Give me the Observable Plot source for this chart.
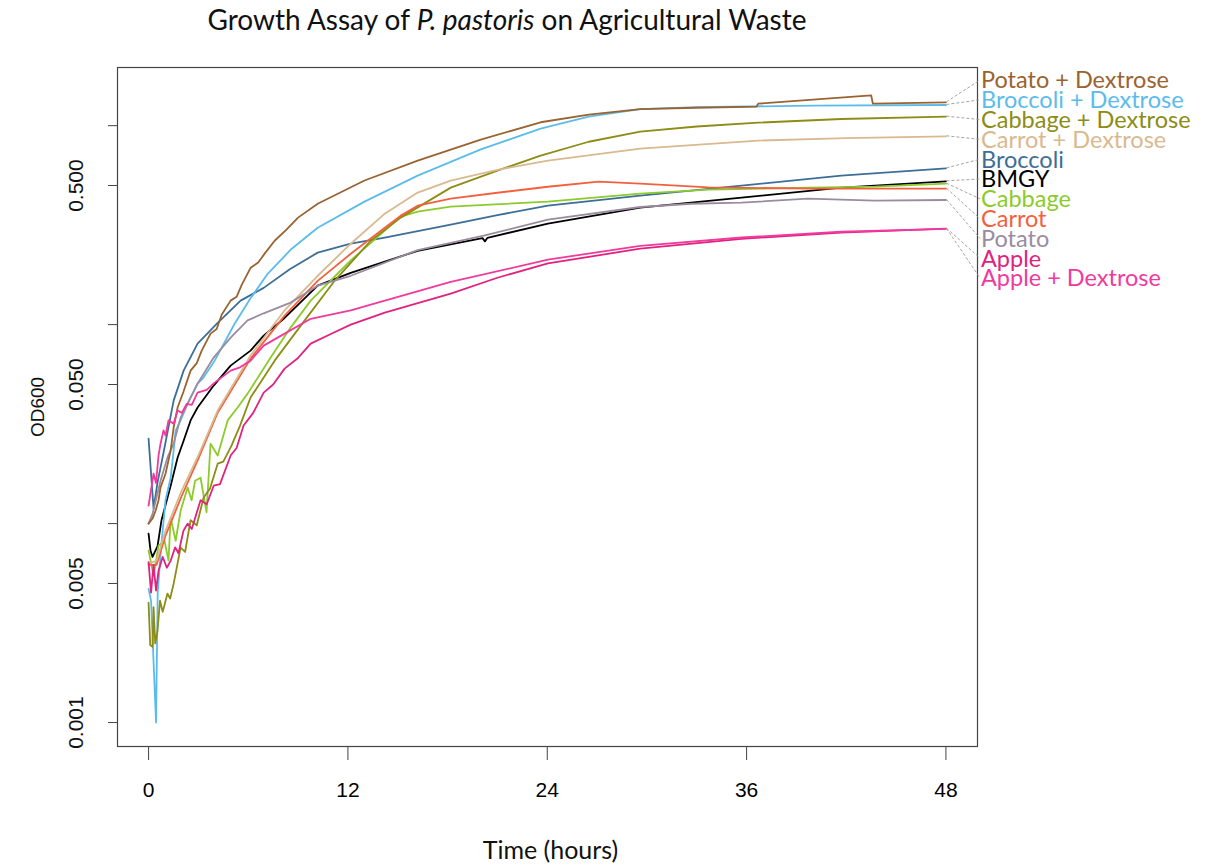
<!DOCTYPE html>
<html><head><meta charset="utf-8">
<script src="https://cdn.jsdelivr.net/npm/d3@7"></script>
<script src="https://cdn.jsdelivr.net/npm/@observablehq/plot@0.6"></script>
<style>
body{margin:0;background:#fff;}
#title{position:absolute;left:0;top:2px;width:1014px;text-align:center;font-family:Lato,"Open Sans",sans-serif;font-size:28px;color:#111;}
#chart{position:absolute;left:0;top:45px;}
</style></head><body>
<div id="title">Growth Assay of <i>P. pastoris</i> on Agricultural Waste</div>
<div id="chart"></div>
<script>
// Series names (legend order) and colours
const seriesNames = ["Potato + Dextrose","Broccoli + Dextrose","Cabbage + Dextrose","Carrot + Dextrose","Broccoli","BMGY","Cabbage","Carrot","Potato","Apple","Apple + Dextrose"];
const seriesColors = ["#9A6330","#5BBCEB","#8C8C16","#D9B98F","#3C6E98","#000000","#8CCB2B","#F2603F","#9A8C9E","#E0237F","#F03A9E"];

// [time (h), OD600]
const potatoDextrose = [[0,0.0100],[0.24,0.0106],[0.42,0.0116],[0.6,0.0131],[0.72,0.0152],[1.02,0.0178],[1.33,0.0233],[1.51,0.0304],[1.75,0.0383],[2.1,0.046],[2.53,0.0587],[2.9,0.064],[3.2,0.074],[3.73,0.0901],[4.1,0.095],[4.4,0.112],[4.94,0.132],[5.3,0.138],[5.6,0.158],[6.14,0.193],[6.6,0.205],[7.0,0.228],[7.59,0.264],[8.3,0.300],[9.0,0.345],[10.18,0.405],[13,0.53],[16.2,0.667],[20,0.85],[23.6,1.04],[26.5,1.135],[29.6,1.21],[33,1.23],[36.6,1.245],[36.7,1.29],[40,1.35],[43.5,1.42],[43.6,1.29],[48,1.31]];
const broccoliDextrose = [[0,0.0047],[0.15,0.0041],[0.45,0.001],[0.55,0.0045],[0.75,0.0075],[1.02,0.0131],[1.33,0.017],[1.51,0.0233],[1.63,0.0293],[1.93,0.033],[2.4,0.041],[2.95,0.0505],[3.3,0.054],[3.98,0.0659],[5.18,0.101],[6.1,0.134],[7.17,0.180],[8.6,0.24],[10.18,0.307],[13,0.415],[16.2,0.561],[20,0.76],[23.6,0.966],[26.5,1.11],[29.6,1.21],[33,1.24],[40,1.26],[48,1.27]];
const cabbageDextrose = [[0,0.0040],[0.1,0.00245],[0.24,0.0024],[0.3,0.0038],[0.4,0.0025],[0.54,0.0029],[0.69,0.0041],[0.85,0.0036],[1.14,0.00445],[1.3,0.0042],[1.51,0.00499],[1.93,0.00757],[2.2,0.0072],[2.53,0.0104],[2.9,0.0098],[3.31,0.0135],[3.7,0.015],[4.16,0.020],[4.5,0.0205],[5.0,0.0247],[5.5,0.031],[6.14,0.043],[7.59,0.0659],[9.4,0.105],[11.2,0.166],[13.37,0.264],[15.18,0.345],[18.19,0.488],[21,0.594],[23.6,0.707],[26.5,0.83],[29.6,0.933],[33,0.99],[36.7,1.035],[41.7,1.08],[48,1.11]];
const carrotDextrose = [[0,0.0063],[0.48,0.0065],[1.02,0.0092],[2.0,0.0147],[3.0,0.022],[4.16,0.037],[6.14,0.0699],[8.19,0.118],[10.18,0.176],[12.17,0.255],[14.22,0.361],[16.2,0.461],[18.19,0.529],[21,0.60],[24.04,0.667],[29.6,0.766],[36.7,0.841],[42,0.865],[48,0.884]];
const broccoli = [[0,0.0267],[0.3,0.0119],[0.54,0.0161],[0.9,0.0227],[1.51,0.0415],[2.11,0.0587],[2.95,0.0803],[4.16,0.102],[5.54,0.132],[6.93,0.153],[8.5,0.19],[10.18,0.230],[12.17,0.255],[14.22,0.274],[18.19,0.318],[21,0.355],[24.04,0.396],[29.6,0.445],[35.7,0.499],[41.7,0.561],[48,0.610]];
const bmgy = [[0,0.0089],[0.12,0.0073],[0.24,0.0068],[0.54,0.0077],[0.78,0.0104],[1.33,0.0155],[1.75,0.0215],[2.11,0.0261],[2.53,0.033],[2.95,0.0383],[3.92,0.0494],[4.94,0.0622],[6.14,0.074],[6.93,0.088],[8.19,0.108],[10.18,0.157],[12.17,0.182],[16.2,0.235],[20.1,0.272],[20.25,0.262],[20.4,0.273],[24.04,0.322],[29.6,0.387],[35.7,0.435],[41.7,0.488],[48,0.525]];
const cabbage = [[0,0.00732],[0.3,0.00548],[0.6,0.00775],[0.96,0.0082],[1.2,0.00652],[1.33,0.0107],[1.63,0.0082],[1.93,0.0116],[2.35,0.0152],[2.59,0.0131],[2.8,0.0164],[3.13,0.017],[3.49,0.0114],[3.73,0.0252],[4.16,0.022],[4.76,0.033],[5.36,0.0383],[5.96,0.045],[7.35,0.0683],[8.55,0.0966],[9.76,0.132],[12.17,0.210],[14.22,0.297],[15.18,0.349],[16.2,0.370],[18.19,0.392],[24.04,0.415],[29.6,0.455],[33.7,0.477],[39.7,0.488],[43.7,0.494],[48,0.511]];
const carrot = [[0,0.0062],[0.48,0.0062],[1.02,0.0087],[2.0,0.0138],[3.0,0.0212],[4.16,0.0361],[6.14,0.0675],[8.19,0.111],[10.18,0.166],[12.17,0.227],[14.22,0.307],[15.18,0.353],[16.2,0.396],[18.19,0.430],[21,0.46],[24.04,0.493],[27.1,0.523],[29.6,0.511],[33.7,0.490],[40,0.482],[48,0.482]];
const potato = [[0,0.0100],[0.24,0.0112],[0.54,0.0142],[0.72,0.0164],[1.14,0.0215],[1.51,0.0252],[1.93,0.0341],[2.35,0.040],[2.95,0.0505],[3.92,0.0683],[4.94,0.0861],[5.96,0.105],[6.93,0.114],[8.55,0.129],[10.18,0.157],[12.17,0.176],[16.2,0.237],[20.18,0.280],[24.04,0.337],[29.6,0.39],[32.7,0.405],[35.7,0.41],[39.7,0.430],[43.7,0.42],[48,0.423]];
const apple = [[0,0.0064],[0.15,0.0045],[0.3,0.0062],[0.45,0.0046],[0.6,0.0058],[0.85,0.0068],[1.1,0.0060],[1.33,0.0065],[1.6,0.0076],[1.8,0.0071],[2.1,0.0092],[2.35,0.0100],[2.6,0.0094],[3.13,0.0131],[3.5,0.0125],[3.92,0.0155],[4.3,0.0158],[4.94,0.022],[5.3,0.024],[5.72,0.0311],[6.3,0.036],[6.93,0.0455],[7.5,0.050],[8.19,0.0601],[9.0,0.068],[9.76,0.0803],[11,0.090],[12.17,0.100],[14.22,0.115],[18.19,0.143],[21,0.172],[24.04,0.203],[29.6,0.241],[35.7,0.270],[41.7,0.290],[48,0.304]];
const appleDextrose = [[0,0.0123],[0.3,0.0178],[0.45,0.016],[0.6,0.022],[0.72,0.0252],[0.9,0.0294],[1.02,0.0277],[1.2,0.033],[1.51,0.0318],[1.75,0.037],[2.0,0.036],[2.3,0.040],[2.6,0.0395],[2.95,0.0455],[3.5,0.047],[3.98,0.0511],[4.94,0.0587],[5.5,0.061],[6.14,0.0659],[6.93,0.0784],[8.19,0.0901],[9.76,0.107],[12.17,0.118],[14.22,0.132],[18.19,0.164],[24.04,0.212],[29.6,0.249],[35.7,0.274],[41.7,0.293],[48,0.303]];

const seriesValues = [potatoDextrose, broccoliDextrose, cabbageDextrose, carrotDextrose, broccoli, bmgy, cabbage, carrot, potato, apple, appleDextrose];

const xTicks = [0, 12, 24, 36, 48];
const yTicks = [0.001, 0.005, 0.01, 0.05, 0.1, 0.5, 1];
const yTickLabels = [[0.001, "0.001"], [0.005, "0.005"], [0.05, "0.050"], [0.5, "0.500"]];

const rows = [];
seriesNames.forEach((name, i) => seriesValues[i].forEach(([t, od]) => rows.push({series: name, t, od})));
const drawOrder = ["BMGY","Broccoli","Broccoli + Dextrose","Cabbage","Cabbage + Dextrose","Carrot","Carrot + Dextrose","Potato","Potato + Dextrose","Apple","Apple + Dextrose"];
rows.sort((a, b) => drawOrder.indexOf(a.series) - drawOrder.indexOf(b.series));

const sans = "'Liberation Sans',Arial,sans-serif";
const calib = "Lato,'Open Sans',sans-serif";

function legendMark(index, scales, values, dimensions) {
  const g = d3.create("svg:g");
  const labelX = dimensions.width - dimensions.marginRight + 4;
  seriesNames.forEach((name, i) => {
    const pts = seriesValues[i];
    const [tEnd, odEnd] = pts[pts.length - 1];
    const ly = dimensions.marginTop + 13 + i * 19.8;
    g.append("line")
      .attr("x1", scales.x(tEnd) + 1).attr("y1", scales.y(odEnd))
      .attr("x2", labelX - 1).attr("y2", ly)
      .attr("stroke", "#9a9a9a").attr("stroke-width", 0.9).attr("stroke-dasharray", "3,2");
    g.append("text")
      .attr("x", labelX).attr("y", ly).attr("dy", "0.36em")
      .attr("text-anchor", "start")
      .attr("fill", seriesColors[i])
      .attr("font-family", calib).attr("font-size", 23.5)
      .text(name);
  });
  return g.node();
}

const chart = Plot.plot({
  width: 1205, height: 820,
  marginLeft: 117, marginRight: 228, marginTop: 22, marginBottom: 119,
  style: {background: "white", overflow: "visible"},
  x: {domain: [-1.87, 49.9]},
  y: {type: "log", domain: [0.000758, 1.96]},
  color: {domain: seriesNames, range: seriesColors},
  marks: [
    Plot.line(rows, {x: "t", y: "od", z: "series", stroke: "series", strokeWidth: 1.8}),
    Plot.frame({stroke: "#444", strokeWidth: 1.2}),
    Plot.axisX({ticks: xTicks, tickSize: 14, tickPadding: 22, fontSize: 21, fontFamily: sans, label: null, stroke: "#444"}),
    Plot.axisY({ticks: yTicks, tickSize: 9, tickFormat: () => "", label: null, stroke: "#444"}),
    Plot.text(yTickLabels, {y: d => d[0], text: d => d[1], frameAnchor: "left", dx: -41, rotate: -90, textAnchor: "middle", lineAnchor: "middle", fontSize: 21, fontFamily: sans, fill: "#111"}),
    Plot.text(["OD600"], {text: d => d, frameAnchor: "left", dx: -80, rotate: -90, textAnchor: "middle", lineAnchor: "middle", fontSize: 19, fontFamily: sans, fill: "#111"}),
    Plot.text(["Time (hours)"], {text: d => d, frameAnchor: "bottom", dx: 3, dy: 104, lineAnchor: "middle", fontSize: 25, fontFamily: calib, fill: "#111"}),
    legendMark
  ]
});
document.getElementById("chart").appendChild(chart);
</script>
</body></html>
